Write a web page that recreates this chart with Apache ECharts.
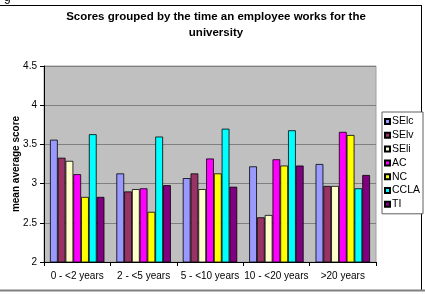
<!DOCTYPE html>
<html>
<head>
<meta charset="utf-8">
<script src="https://cdn.jsdelivr.net/npm/echarts@6/dist/echarts.min.js"></script>
<style>
  html, body { margin: 0; padding: 0; background: #fff; }
  #chart { width: 425px; height: 294px; }
</style>
</head>
<body>
<div id="chart"></div>
<script>
const categories = ["0 - <2 years", "2 - <5 years", "5 - <10 years", "10 - <20 years", ">20 years"];

const SElc = [3.56, 3.13, 3.07, 3.22, 3.25];
const SElv = [3.33, 2.90, 3.13, 2.57, 2.97];
const SEli = [3.29, 2.93, 2.93, 2.60, 2.97];
const AC   = [3.12, 2.94, 3.32, 3.31, 3.66];
const NC   = [2.83, 2.64, 3.13, 3.23, 3.62];
const CCLA = [3.63, 3.60, 3.70, 3.68, 2.94];
const TI   = [2.83, 2.98, 2.96, 3.23, 3.11];

const seriesNames = ["SElc", "SElv", "SEli", "AC", "NC", "CCLA", "TI"];
const seriesData = [SElc, SElv, SEli, AC, NC, CCLA, TI];
const colors = ["#9999FF", "#993366", "#FFFFCC", "#FF00FF", "#FFFF00", "#00FFFF", "#800080"];

const chart = echarts.init(document.getElementById("chart"));

const font = "Liberation Sans, Arial, sans-serif";

const option = {
  animation: false,
  textStyle: { fontFamily: font },
  title: {
    text: "Scores grouped by the time an employee works for the\nuniversity",
    left: 211,
    textAlign: "center",
    top: 4,
    textStyle: { fontSize: 11.5, fontWeight: "bold", color: "#000", lineHeight: 16, fontFamily: font }
  },
  grid: {
    left: 44, right: 49, top: 66, bottom: 32,
    outerBoundsMode: "none",
    containLabel: false,
    show: true,
    backgroundColor: "#C0C0C0",
    borderColor: "#A0A0A0",
    borderWidth: 1
  },
  legend: {
    orient: "vertical",
    left: 382,
    top: 112,
    itemWidth: 5,
    itemHeight: 5,
    itemGap: 2.8,
    padding: [4, 3, 4, 2],
    borderColor: "#606060",
    borderWidth: 1,
    backgroundColor: "#fff",
    icon: "rect",
    textStyle: { fontSize: 10.5, lineHeight: 11, color: "#000", padding: [0, 0, 0, -3] },
    data: seriesNames
  },
  xAxis: {
    type: "category",
    data: categories,
    axisLine: { lineStyle: { color: "#000" } },
    axisTick: { show: true, length: 4, lineStyle: { color: "#000" } },
    axisLabel: { fontSize: 10, color: "#000", margin: 9, interval: 0 }
  },
  yAxis: {
    type: "value",
    min: 2,
    max: 4.5,
    interval: 0.5,
    name: "mean average score",
    nameLocation: "middle",
    nameGap: 23,
    nameMoveOverlap: false,
    nameTextStyle: { fontSize: 10, fontWeight: "bold", color: "#000" },
    axisLine: { show: true, lineStyle: { color: "#000" } },
    axisTick: { show: true, length: 4, lineStyle: { color: "#000" } },
    axisLabel: { fontSize: 10, color: "#000", margin: 7 },
    splitLine: { show: true, lineStyle: { color: "#808080", width: 1 } }
  },
  graphic: [
    { type: "line", shape: { x1: 0, y1: 5.5, x2: 422, y2: 5.5 }, style: { stroke: "#000", lineWidth: 1 } },
    { type: "line", shape: { x1: 421.5, y1: 5, x2: 421.5, y2: 290 }, style: { stroke: "#000", lineWidth: 1 } },
    { type: "line", shape: { x1: 0, y1: 290.5, x2: 425, y2: 290.5 }, style: { stroke: "#808080", lineWidth: 2 } },
    { type: "text", left: 4, top: -8, style: { text: "g", fontSize: 12, fill: "#000", fontFamily: font } }
  ],
  series: seriesNames.map((name, i) => ({
    name: name,
    type: "bar",
    data: seriesData[i],
    barGap: "0%",
    barCategoryGap: "18%",
    itemStyle: { color: colors[i], borderColor: "#000", borderWidth: 0.8 }
  }))
};

chart.setOption(option);
</script>
</body>
</html>
